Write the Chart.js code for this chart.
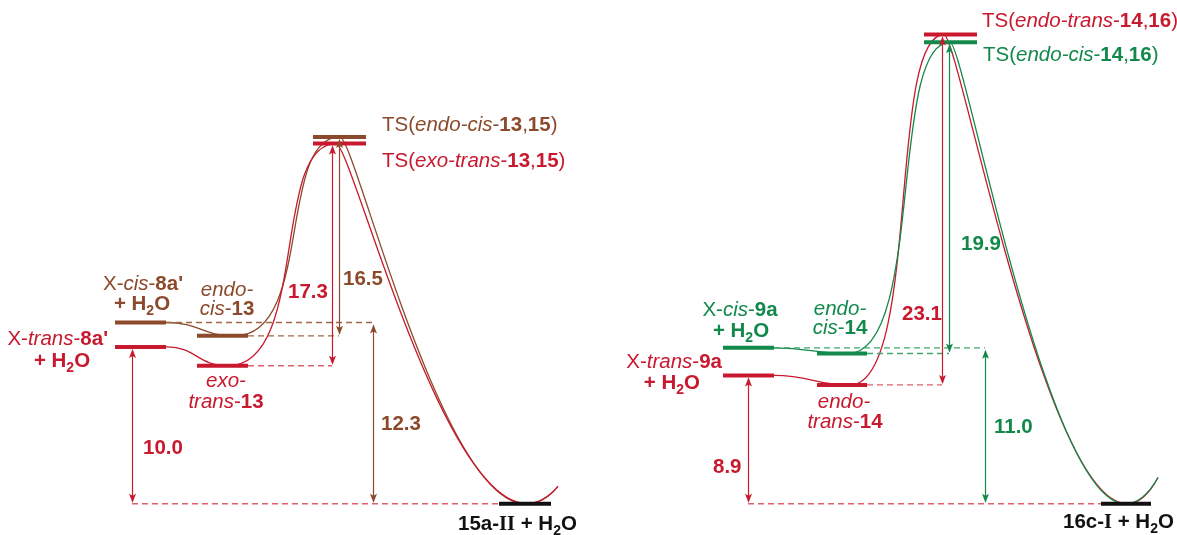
<!DOCTYPE html>
<html>
<head>
<meta charset="utf-8">
<script src="https://cdn.jsdelivr.net/npm/chart.js@4.4.1/dist/chart.umd.min.js"></script>
<style>
  html, body { margin: 0; padding: 0; background: #fff; }
  #wrap { width: 1177px; height: 535px; }
</style>
</head>
<body>
<div id="wrap"><canvas id="energy" width="1177" height="535"></canvas></div>
<script>
  // ── DATA ──
  // order in each panel: cis reactant, trans reactant, cis adduct, trans adduct, cis TS, trans TS, product
  const leftSpecies  = ["X-cis-8a' + H2O", "X-trans-8a' + H2O", "endo-cis-13", "exo-trans-13",
                        "TS(endo-cis-13,15)", "TS(exo-trans-13,15)", "15a-II + H2O"];
  const leftHeights  = [12.08, 10.45, 11.19, 9.20, 24.45, 24.01, 0];
  const rightSpecies = ["X-cis-9a + H2O", "X-trans-9a + H2O", "endo-cis-14", "endo-trans-14",
                        "TS(endo-cis-14,16)", "TS(endo-trans-14,16)", "16c-I + H2O"];
  const rightHeights = [10.39, 8.55, 10.01, 7.92, 30.77, 31.28, 0];
  // gap labels: trans reactant→product, cis reactant→product, trans barrier, cis barrier
  const leftGaps  = ['10.0', '12.3', '17.3', '16.5'];
  const rightGaps = ['8.9', '11.0', '23.1', '19.9'];
  const tailRise  = [1.15, 1.75];

  const BROWN = '#8b4a2b', RED = '#c8192e', GREEN = '#12894a', BLACK = '#111';
  const DASH = { [BROWN]: '#a0674a', [RED]: '#e0606a', [GREEN]: '#3fa66d' };

  // ── LAYOUT ──
  const panels = [
    {
      heights: leftHeights, gaps: leftGaps, tail: tailRise[0], tones: [BROWN, RED],
      bars: [[115,166],[115,166],[197,248],[197,248],[313,366],[313,366],[499,551]],
      paths: [
        { levels: [0,2,4,6], xs: [166,235,340,525,558], tone: 0 },
        { levels: [1,3,5,6], xs: [166,228,336,527,558], tone: 1 }
      ],
      arrows: [
        { x: 132, from: 1, to: 6, tone: 1, lab: [143, 454] },
        { x: 373, from: 0, to: 6, tone: 0, lab: [381, 430] },
        { x: 332, from: 5, to: 3, tone: 1, lab: [288, 298] },
        { x: 339, from: 4, to: 2, tone: 0, lab: [343, 285] }
      ],
      dashes: [
        { lv: 6, x0: 132, x1: 499, tone: 1 },
        { lv: 0, x0: 166, x1: 373, tone: 0 },
        { lv: 2, x0: 248, x1: 339, tone: 0 },
        { lv: 3, x0: 248, x1: 332, tone: 1 }
      ]
    },
    {
      heights: rightHeights, gaps: rightGaps, tail: tailRise[1], tones: [GREEN, RED],
      bars: [[723,774],[723,774],[817,867],[817,867],[924,977],[924,977],[1101,1151]],
      paths: [
        { levels: [1,3,5,6], xs: [774,850,944,1127,1158], tone: 1 },
        { levels: [0,2,4,6], xs: [774,848,950,1125,1158], tone: 0 }
      ],
      arrows: [
        { x: 748, from: 1, to: 6, tone: 1, lab: [713, 473] },
        { x: 985, from: 0, to: 6, tone: 0, lab: [994, 433] },
        { x: 942, from: 5, to: 3, tone: 1, lab: [902, 320] },
        { x: 949, from: 4, to: 2, tone: 0, lab: [961, 250] }
      ],
      dashes: [
        { lv: 6, x0: 748, x1: 1101, tone: 1 },
        { lv: 0, x0: 774, x1: 985, tone: 0 },
        { lv: 2, x0: 867, x1: 949, tone: 0 },
        { lv: 3, x0: 867, x1: 942, tone: 1 }
      ]
    }
  ];

  const H2O = [['+ H','b'],['2','bs'],['O','b']];
  const texts = [
    { parts: [['X-',''],['cis','i'],['-',''],["8a'",'b']], x: 143, y: 290, align: 'center', color: BROWN },
    { parts: H2O, x: 142, y: 310, align: 'center', color: BROWN },
    { parts: [['X-',''],['trans','i'],['-',''],["8a'",'b']], x: 108, y: 345, align: 'right', color: RED },
    { parts: H2O, x: 62, y: 367, align: 'center', color: RED },
    { parts: [['endo-','i']], x: 227, y: 296, align: 'center', color: BROWN },
    { parts: [['cis','i'],['-',''],['13','b']], x: 227, y: 315, align: 'center', color: BROWN },
    { parts: [['exo-','i']], x: 226, y: 387, align: 'center', color: RED },
    { parts: [['trans','i'],['-',''],['13','b']], x: 226, y: 408, align: 'center', color: RED },
    { parts: [['TS(',''],['endo-cis','i'],['-',''],['13','b'],[',',''],['15','b'],[')','']], x: 382, y: 131, align: 'left', color: BROWN },
    { parts: [['TS(',''],['exo-trans','i'],['-',''],['13','b'],[',',''],['15','b'],[')','']], x: 382, y: 167, align: 'left', color: RED },
    { parts: [['15a-','b'],['II','br'],[' + H','b'],['2','bs'],['O','b']], x: 458, y: 530, align: 'left', color: BLACK },

    { parts: [['X-',''],['cis','i'],['-',''],['9a','b']], x: 740, y: 316, align: 'center', color: GREEN },
    { parts: H2O, x: 741, y: 337, align: 'center', color: GREEN },
    { parts: [['X-',''],['trans','i'],['-',''],['9a','b']], x: 722, y: 368, align: 'right', color: RED },
    { parts: H2O, x: 700, y: 389, align: 'right', color: RED },
    { parts: [['endo-','i']], x: 840, y: 315, align: 'center', color: GREEN },
    { parts: [['cis','i'],['-',''],['14','b']], x: 840, y: 334, align: 'center', color: GREEN },
    { parts: [['endo-','i']], x: 844, y: 408, align: 'center', color: RED },
    { parts: [['trans','i'],['-',''],['14','b']], x: 845, y: 428, align: 'center', color: RED },
    { parts: [['TS(',''],['endo-trans','i'],['-',''],['14','b'],[',',''],['16','b'],[')','']], x: 982, y: 27, align: 'left', color: RED },
    { parts: [['TS(',''],['endo-cis','i'],['-',''],['14','b'],[',',''],['16','b'],[')','']], x: 983, y: 61, align: 'left', color: GREEN },
    { parts: [['16c-','b'],['I','br'],[' + H','b'],['2','bs'],['O','b']], x: 1063, y: 528, align: 'left', color: BLACK }
  ];

  // ── HELPERS ──
  const levelColor = (p, i) => i === 6 ? BLACK : p.tones[i % 2];

  function fontFor(style) {
    const size = style.includes('s') ? 14 : 20.5;
    const fam = style.includes('r') ? '"Liberation Serif", serif' : '"Liberation Sans", Arial, sans-serif';
    return (style.includes('i') ? 'italic ' : '') + (style.includes('b') ? 'bold ' : '') + size + 'px ' + fam;
  }

  function drawRich(ctx, t) {
    let w = 0;
    t.parts.forEach(p => { ctx.font = fontFor(p[1]); w += ctx.measureText(p[0]).width; });
    let cx = t.align === 'center' ? t.x - w / 2 : t.align === 'right' ? t.x - w : t.x;
    ctx.fillStyle = t.color;
    ctx.textAlign = 'left';
    ctx.textBaseline = 'alphabetic';
    t.parts.forEach(p => {
      ctx.font = fontFor(p[1]);
      ctx.fillText(p[0], cx, t.y + (p[1].includes('s') ? 5 : 0));
      cx += ctx.measureText(p[0]).width;
    });
  }

  function head(ctx, x, y, dir) {
    // dir -1 points up, +1 points down
    ctx.beginPath();
    ctx.moveTo(x, y);
    ctx.lineTo(x - 3.5, y - dir * 9);
    ctx.lineTo(x, y - dir * 7);
    ctx.lineTo(x + 3.5, y - dir * 9);
    ctx.closePath();
    ctx.fill();
  }

  // ── CURVES (under the level bars) ──
  const curvePlugin = {
    id: 'curves',
    beforeDatasetsDraw(chart) {
      const ctx = chart.ctx, X = v => chart.scales.x.getPixelForValue(v), Y = v => chart.scales.y.getPixelForValue(v);
      panels.forEach(p => {
        p.paths.forEach(path => {
          const ys = path.levels.map(l => Y(p.heights[l]));
          ys.push(Y(p.heights[6] + p.tail));
          const xs = path.xs.map(X);
          const shape = [[0.5, 0.5], [0.75, 0.6], [0.08, 0.45]];
          ctx.save();
          ctx.strokeStyle = p.tones[path.tone];
          ctx.lineWidth = 1.3;
          ctx.beginPath();
          ctx.moveTo(xs[0], ys[0]);
          for (let i = 0; i < 3; i++) {
            const dx = xs[i + 1] - xs[i];
            ctx.bezierCurveTo(xs[i] + shape[i][0] * dx, ys[i], xs[i + 1] - shape[i][1] * dx, ys[i + 1], xs[i + 1], ys[i + 1]);
          }
          const dx = xs[4] - xs[3], dy = ys[4] - ys[3];
          ctx.bezierCurveTo(xs[3] + 0.45 * dx, ys[3], xs[3] + 0.8 * dx, ys[3] + 0.55 * dy, xs[4], ys[4]);
          ctx.stroke();
          ctx.restore();
        });
      });
    }
  };

  // ── ARROWS + TEXT ──
  const notePlugin = {
    id: 'notes',
    afterDatasetsDraw(chart) {
      const ctx = chart.ctx, X = v => chart.scales.x.getPixelForValue(v), Y = v => chart.scales.y.getPixelForValue(v);
      ctx.save();
      panels.forEach(p => {
        p.arrows.forEach((a, k) => {
          const x = Math.round(X(a.x)) + 0.5;
          const y0 = Y(p.heights[a.from]), y1 = Y(p.heights[a.to]);
          const col = p.tones[a.tone];
          ctx.strokeStyle = col; ctx.fillStyle = col; ctx.lineWidth = 1.2;
          ctx.beginPath(); ctx.moveTo(x, y0 + 3); ctx.lineTo(x, y1 - 2); ctx.stroke();
          head(ctx, x, y0 + 2, -1);
          head(ctx, x, y1 - 1, 1);
          drawRich(ctx, { parts: [[p.gaps[k], 'b']], x: a.lab[0], y: a.lab[1], align: 'left', color: col });
        });
      });
      texts.forEach(t => drawRich(ctx, t));
      ctx.restore();
    }
  };

  // ── DATASETS ──
  const datasets = [];
  panels.forEach(p => {
    p.dashes.forEach(d => {
      datasets.push({
        data: [{ x: d.x0, y: p.heights[d.lv] }, { x: d.x1, y: p.heights[d.lv] }],
        showLine: true, borderColor: DASH[p.tones[d.tone]], borderWidth: 1.4,
        borderDash: [6, 4], pointRadius: 0
      });
    });
    p.bars.forEach((b, i) => {
      datasets.push({
        data: [{ x: b[0], y: p.heights[i] }, { x: b[1], y: p.heights[i] }],
        showLine: true, borderColor: levelColor(p, i), borderWidth: 4,
        borderCapStyle: 'butt', pointRadius: 0
      });
    });
  });

  new Chart(document.getElementById('energy').getContext('2d'), {
    type: 'scatter',
    data: { datasets },
    options: {
      responsive: false,
      animation: false,
      layout: { padding: 0 },
      plugins: { legend: { display: false }, tooltip: { enabled: false } },
      scales: {
        x: { type: 'linear', min: 0, max: 1177, display: false },
        y: { type: 'linear', min: -2.087, max: 33.58, display: false }
      }
    },
    plugins: [curvePlugin, notePlugin]
  });
</script>
</body>
</html>
